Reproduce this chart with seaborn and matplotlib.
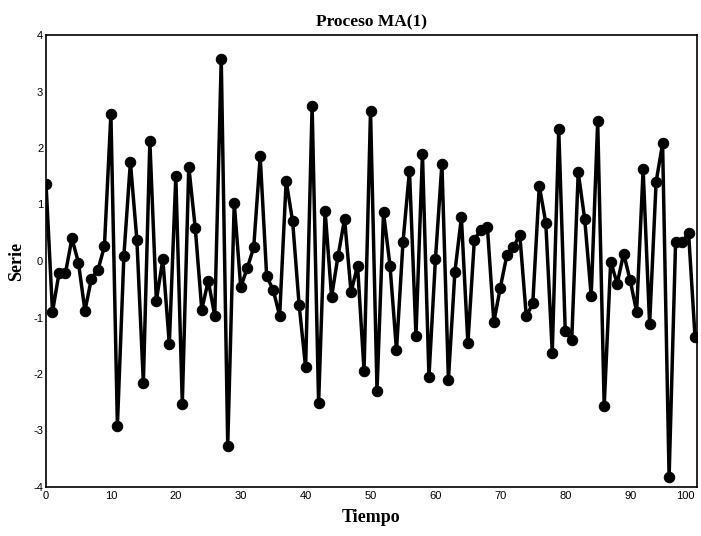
import matplotlib
matplotlib.use("Agg")
import matplotlib.pyplot as plt
import seaborn as sns
import numpy as np
import pandas as pd

# ---- data ----
tiempo = list(range(101))
serie = [
    1.37, -0.90, -0.22, -0.21, 0.40, -0.03, -0.88, -0.31, -0.16, 0.26,
    2.60, -2.92, 0.09, 1.75, 0.38, -2.16, 2.12, -0.70, 0.03, -1.47,
    1.50, -2.53, 1.67, 0.58, -0.86, -0.35, -0.97, 3.58, -3.27, 1.03,
    -0.46, -0.13, 0.24, 1.85, -0.27, -0.51, -0.97, 1.42, 0.70, -0.78,
    -1.88, 2.75, -2.52, 0.89, -0.63, 0.09, 0.74, -0.55, -0.08, -1.94,
    2.66, -2.30, 0.86, -0.08, -1.58, 0.33, 1.60, -1.32, 1.90, -2.05,
    0.03, 1.72, -2.10, -0.19, 0.77, -1.46, 0.38, 0.55, 0.61, -1.08,
    -0.47, 0.10, 0.25, 0.46, -0.98, -0.75, 1.33, 0.68, -1.62, 2.33,
    -1.24, -1.40, 1.57, 0.74, -0.62, 2.48, -2.57, -0.01, -0.40, 0.13,
    -0.34, -0.90, 1.62, -1.12, 1.40, 2.08, -3.83, 0.34, 0.33, 0.50,
    -1.35,
]
x_ticks = [0, 10, 20, 30, 40, 50, 60, 70, 80, 90, 100]
y_ticks = [-4, -3, -2, -1, 0, 1, 2, 3, 4]
titulo = "Proceso MA(1)"
x_label = "Tiempo"
y_label = "Serie"

df = pd.DataFrame({"Tiempo": tiempo, "Serie": serie})

sns.set_style("white")
plt.rcParams["font.family"] = ["Liberation Serif", "DejaVu Serif"]
plt.rcParams["text.color"] = "black"
plt.rcParams["axes.labelcolor"] = "black"
plt.rcParams["xtick.color"] = "black"
plt.rcParams["ytick.color"] = "black"

fig = plt.figure(figsize=(7.01, 5.36), dpi=100)
ax = fig.add_axes([46 / 701, 1 - 487 / 536, (697 - 46) / 701, (487 - 35) / 536])

sns.lineplot(data=df, x="Tiempo", y="Serie", ax=ax, color="black",
             linewidth=2.5, marker="o", markersize=7.5,
             markeredgecolor="black", markerfacecolor="black")

ax.set_xlim(0, 100.3)
ax.set_ylim(-4, 4)
ax.set_xticks(x_ticks)
ax.set_yticks(y_ticks)
tick_font = ["Liberation Sans Narrow", "Liberation Sans", "DejaVu Sans"]
ax.set_xticklabels([str(v) for v in x_ticks], family=tick_font, fontsize=8,
                   color="black")
ax.set_yticklabels([str(v) for v in y_ticks], family=tick_font, fontsize=8,
                   color="black")
# keep the last x label inside the figure
ax.get_xticklabels()[-1].set_horizontalalignment("right")
ax.tick_params(axis="both", direction="in", length=3, width=0.8, pad=2,
               colors="black")
ax.tick_params(axis="x", pad=3)

for s in ax.spines.values():
    s.set_visible(True)
    s.set_color("black")
    s.set_linewidth(1.2)

ax.set_title(titulo, fontsize=12.5, fontweight="bold", pad=6, color="black")
ax.set_xlabel(x_label, fontsize=13, fontweight="bold", labelpad=6,
              color="black")
ax.set_ylabel(y_label, fontsize=13, fontweight="bold", labelpad=6,
              color="black")

fig.savefig("out.png", dpi=100, facecolor="white")
